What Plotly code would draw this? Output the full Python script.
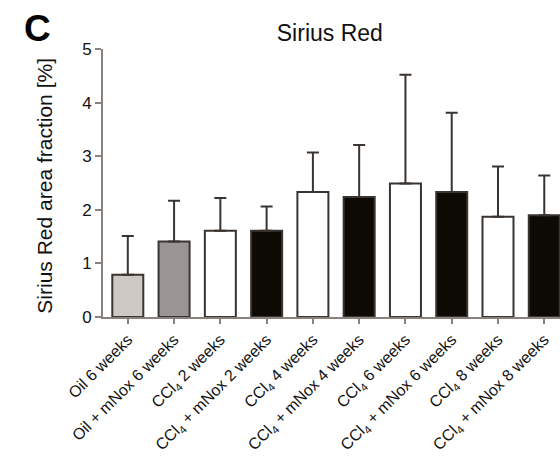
import plotly.graph_objects as go

categories = ["Oil 6 weeks", "Oil + mNox 6 weeks", "CCl<sub>4</sub> 2 weeks", "CCl<sub>4</sub> + mNox 2 weeks",
              "CCl<sub>4</sub> 4 weeks", "CCl<sub>4</sub> + mNox 4 weeks", "CCl<sub>4</sub> 6 weeks",
              "CCl<sub>4</sub> + mNox 6 weeks", "CCl<sub>4</sub> 8 weeks", "CCl<sub>4</sub> + mNox 8 weeks"]
means = [0.79, 1.41, 1.61, 1.61, 2.33, 2.24, 2.49, 2.33, 1.87, 1.90]
sd = [0.72, 0.76, 0.61, 0.45, 0.74, 0.97, 2.03, 1.48, 0.94, 0.74]
colors = ["#cdc8c3", "#9a9494", "#ffffff", "#0d0a05", "#ffffff", "#0d0a05", "#ffffff", "#0d0a05", "#ffffff", "#0d0a05"]
yticks = [0, 1, 2, 3, 4, 5]

xs = list(range(len(categories)))
edge = "#3a3430"
axc = "#8a817c"
font = "Liberation Sans, Arial, sans-serif"

fig = go.Figure()
fig.add_trace(go.Bar(
    x=xs, y=means, width=0.67,
    marker=dict(color=colors, line=dict(color=edge, width=2)),
    error_y=dict(type="data", symmetric=False, array=sd, arrayminus=[0]*len(sd),
                 color=edge, thickness=2, width=6),
))

fig.update_layout(
    width=560, height=459,
    margin=dict(l=103, r=0, t=49, b=142, autoexpand=False),
    plot_bgcolor="white", paper_bgcolor="white",
    showlegend=False,
    font=dict(family=font, color="#111111"),
    title=dict(text="Sirius Red", x=0.589, xanchor="center", y=0.928, yanchor="middle",
               font=dict(size=23, family=font, color="#111111")),
    xaxis=dict(range=[-0.536, 9.34], tickmode="array", tickvals=xs, ticktext=categories,
               tickangle=-45, showline=True, linecolor=axc, linewidth=2, automargin=False,
               ticks="outside", ticklen=5, tickcolor=axc, tickwidth=2,
               showgrid=False, zeroline=False, tickfont=dict(size=16, family=font, color="#111111")),
    yaxis=dict(range=[0, 5], tickmode="array", tickvals=yticks, showline=True, linecolor=axc, linewidth=2,
               automargin=False,
               ticks="outside", ticklen=6, tickcolor=axc, tickwidth=2,
               showgrid=False, zeroline=False, tickfont=dict(size=17, family=font, color="#111111")),
    annotations=[
        dict(text="<b>C</b>", xref="paper", yref="paper", x=-0.177, y=1.078, xanchor="left", yanchor="middle",
             showarrow=False, font=dict(size=37, family=font, color="#000000")),
        dict(text="Sirius Red area fraction [%]", xref="paper", yref="paper", x=-0.127, y=0.49,
             xanchor="center", yanchor="middle", textangle=-90, showarrow=False,
             font=dict(size=21, family=font, color="#111111")),
    ],
)

fig.write_html("out.html", config={"displayModeBar": False},
               post_script="document.body.style.margin='0';document.body.style.overflow='hidden';")
